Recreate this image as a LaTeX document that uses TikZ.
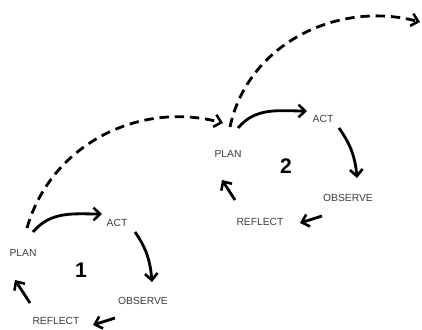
\documentclass[tikz,border=0pt]{standalone}
\usepackage{fontspec}
\setmainfont{Liberation Sans}
\usepackage{tikz}
\usetikzlibrary{arrows.meta, calc}

\definecolor{labelgray}{HTML}{3C3C3C}

\tikzset{
  steplabel/.style={text=labelgray, font=\fontsize{8.8}{10}\selectfont, inner sep=0pt},
  cyclenum/.style={font=\fontsize{18}{20}\selectfont\bfseries, inner sep=0pt},
  cyclearrow/.style={line width=2.4pt, -{Straight Barb[length=2mm, width=3.8mm, line width=2.2pt]}},
  nextarrow/.style={line width=2.4pt, dash pattern=on 8pt off 5pt, -{Straight Barb[length=2mm, width=3.8mm, line width=2.2pt]}}
}

\begin{document}
\begin{tikzpicture}[x=0.03cm, y=0.03cm]

%%Frame (same size as the picture)
\useasboundingbox (0,0) rectangle (422,329);

%% ***Cycle 1***
    \node[steplabel] (plan1) at (23, 76) {PLAN};
    \node[steplabel] (act1) at (117, 106) {ACT};
    \node[steplabel] (obs1) at (143, 28) {OBSERVE};
    \node[steplabel] (refl1) at (56, 8) {REFLECT};
    \node[cyclenum] (num1) at (81, 59) {1};

        \draw[cyclearrow] ($(plan1) + (10, 21)$) to[out=50, in=180] ($(act1) + (-15, 9)$);
        \draw[cyclearrow] ($(act1) + (18, -9)$) to[out=-55, in=95] ($(obs1) + (9, 19)$);
        \draw[cyclearrow] ($(obs1) + (-28, -17)$) -- ($(refl1) + (37, -4)$);
        \draw[cyclearrow] ($(refl1) + (-26, 18)$) -- ($(plan1) + (-8, -27)$);

%% ***Cycle 2***
    \node[steplabel] (plan2) at (228, 175) {PLAN};
    \node[steplabel] (act2) at (323, 210) {ACT};
    \node[steplabel] (obs2) at (348, 131) {OBSERVE};
    \node[steplabel] (refl2) at (260, 107) {REFLECT};
    \node[cyclenum] (num2) at (286, 163) {2};

        \draw[cyclearrow] ($(plan2) + (10, 26)$) to[out=50, in=180] ($(act2) + (-16, 8)$);
        \draw[cyclearrow] ($(act2) + (16, -9)$) to[out=-55, in=95] ($(obs2) + (9, 20)$);
        \draw[cyclearrow] ($(obs2) + (-26, -18)$) -- ($(refl2) + (40, -1)$);
        \draw[cyclearrow] ($(refl2) + (-25, 22)$) -- ($(plan2) + (-6, -26)$);

%% ***From one cycle to the next***
    \coordinate (next3) at (420, 307);

        \draw[nextarrow] ($(plan1) + (4, 25)$) to[out=74, in=165] ($(plan2) + (-5, 31)$);
        \draw[nextarrow] ($(plan2) + (2, 27)$) to[out=78, in=165] (next3);

\end{tikzpicture}
\end{document}
